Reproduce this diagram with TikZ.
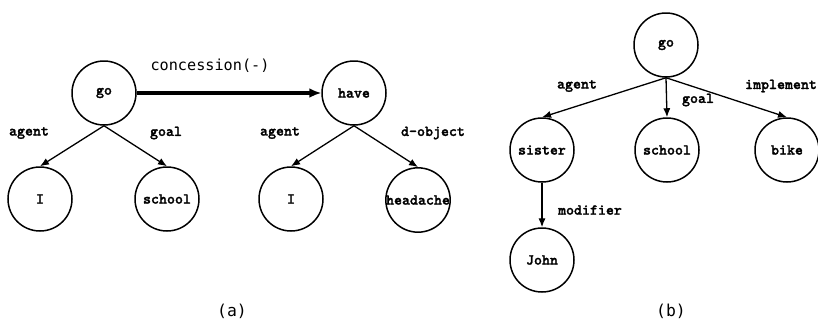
\documentclass[tikz,border=0pt]{standalone}
\usepackage{fontspec}
\newfontfamily\nodefont[FakeBold=1.6]{lmmonolt10-bold.otf}
\newfontfamily\labfont{DejaVu Sans Mono}
\usetikzlibrary{arrows.meta}
\begin{document}
\begin{tikzpicture}[x=0.5pt,y=-0.5pt,
  cnode/.style={draw,circle,line width=0.75pt,minimum size=32pt,inner sep=0pt,font=\nodefont\fontsize{7.6}{8}\selectfont},
  rel/.style={font=\nodefont\fontsize{7.6}{8}\selectfont},
  arr/.style={-{Latex[length=4.5pt,width=3.6pt]},line width=0.65pt},
  bigarr/.style={-{Latex[length=6pt,width=5pt]},line width=1.6pt},
  conclab/.style={font=\labfont\fontsize{7.6}{9}\selectfont},
  caplab/.style={font=\labfont\fontsize{8.2}{10}\selectfont}]
\useasboundingbox (0,0) rectangle (818,322);
% (a)
\node[cnode] (goa) at (104,93) {go};
\node[cnode] (Ia) at (40,199) {I};
\node[cnode] (schoola) at (167,199) {school};
\node[cnode] (have) at (354,93) {have};
\node[cnode] (Ib) at (291,199) {I};
\node[cnode] (head) at (418,200) {headache};
\draw[arr] (goa.south) -- (Ia.north);
\draw[arr] (goa.south) -- (schoola.north);
\draw[arr] (have.south) -- (Ib.north);
\draw[arr] (have.south) -- (head.north);
\draw[bigarr] (goa.east) -- (have.west);
\node[conclab] (conc) at (210,66) {concession(-)};
\node[rel] (la1) at (29,133) {agent};
\node[rel] (lg1) at (166,133) {goal};
\node[rel] (la2) at (280,133) {agent};
\node[rel] (ld) at (433,133) {d-object};
\node[caplab] (capa) at (232,311) {(a)};
% (b)
\node[cnode] (gob) at (666,45) {go};
\node[cnode] (sister) at (542,150) {sister};
\node[cnode] (schoolb) at (667,150) {school};
\node[cnode] (bike) at (787,150) {bike};
\node[cnode] (john) at (542,260) {John};
\draw[arr] (gob.south) -- (sister.north);
\draw[arr] (gob.south) -- (schoolb.north);
\draw[arr] (gob.south) -- (bike.north);
\draw[arr] (sister.south) -- (john.north);
\node[rel] (lab) at (577,86) {agent};
\node[rel] (lgb) at (698,100) {goal};
\node[rel] (lib) at (781,86) {implement};
\node[rel] (lmb) at (590,210) {modifier};
\node[caplab] (capbb) at (671,311) {(b)};
\end{tikzpicture}
\end{document}
